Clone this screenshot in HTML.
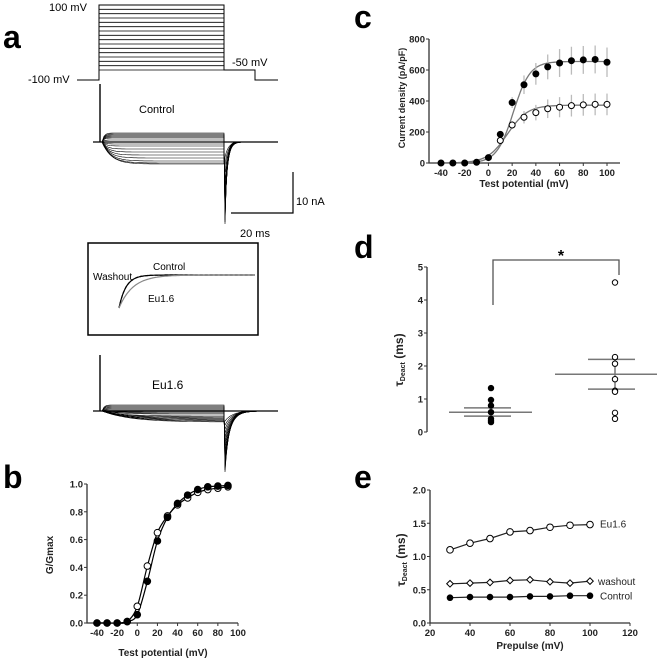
<!DOCTYPE html>
<html><head><meta charset="utf-8"><style>
body{margin:0;background:#fff}
svg text{font-family:"Liberation Sans",Arial,sans-serif}
.b{font-weight:bold}
</style></head><body>
<svg id="s" width="660" height="660" viewBox="0 0 660 660" xmlns="http://www.w3.org/2000/svg">
<g id="pa">
<text x="3" y="48" font-size="32" class="b">a</text>
<text x="49" y="11" font-size="11">100 mV</text>
<text x="28" y="83" font-size="11">-100 mV</text>
<text x="232" y="66" font-size="11">-50 mV</text>
<text x="139" y="113" font-size="11">Control</text>
<text x="296" y="205" font-size="11">10 nA</text>
<text x="240" y="237" font-size="11">20 ms</text>
<path d="M293 172V213H231" fill="none" stroke="#000" stroke-width="1.2"/>
<rect x="88" y="243" width="170" height="92" fill="none" stroke="#000" stroke-width="1.5"/>
<text x="93" y="280" font-size="10">Washout</text>
<text x="153" y="270" font-size="10">Control</text>
<text x="148" y="302" font-size="10">Eu1.6</text>
<text x="152" y="389" font-size="12">Eu1.6</text>
</g>
<g id="pb"><text x="3" y="488" font-size="32" class="b">b</text></g>
<g id="pc"><text x="354" y="28" font-size="32" class="b">c</text></g>
<g id="pd"><text x="354" y="258" font-size="32" class="b">d</text>
<text x="561" y="261" font-size="16" class="b" text-anchor="middle">*</text></g>
<g id="pe"><text x="354" y="488" font-size="32" class="b">e</text></g>
</svg>
<script>
// panel c data
const cV=[-40,-30,-20,-10,0,10,20,30,40,50,60,70,80,90,100];
const cFilled=[0,0,0,5,35,185,390,505,575,620,645,660,665,668,650];
const cFilledErr=[0,0,0,5,10,20,35,60,70,80,90,90,90,90,95];
const cOpenV=[10,20,30,40,50,60,70,80,90,100];
const cOpen=[145,245,295,325,350,360,370,375,378,378];
const cOpenErr=[10,25,40,50,60,65,70,70,70,70];
const cTicksX=[-40,-20,0,20,40,60,80,100];
const cTicksY=[0,200,400,600,800];
// panel b data
const bV=[-40,-30,-20,-10,0,10,20,30,40,50,60,70,80,90];
const bFilled=[0,0,0,0.01,0.06,0.3,0.59,0.76,0.86,0.92,0.96,0.98,0.985,0.99];
const bOpenV=[-40,-30,-20,-10,0,10,20,30,40,50,60,70,80,90];
const bOpen=[0,0,0,0.01,0.12,0.41,0.65,0.77,0.85,0.9,0.94,0.96,0.97,0.98];
const bTicksX=[-40,-20,0,20,40,60,80,100];
const bTicksY=[0,0.2,0.4,0.6,0.8,1.0];
// panel d data
const dControl=[1.33,0.97,0.8,0.6,0.4,0.35,0.3];
const dEu=[4.53,2.27,2.07,1.6,1.25,1.22,0.58,0.4];
const dStats=[[0.6,0.73,0.48],[1.75,2.2,1.3]];
const dTicksY=[0,1,2,3,4,5];
// panel e data
const eX=[30,40,50,60,70,80,90,100];
const eEu=[1.1,1.2,1.27,1.37,1.39,1.44,1.47,1.48];
const eWash=[0.59,0.6,0.61,0.64,0.65,0.62,0.6,0.63];
const eCtrl=[0.38,0.39,0.39,0.39,0.4,0.4,0.41,0.41];
const eTicksX=[20,40,60,80,100,120];
const eTicksY=[0,0.5,1.0,1.5,2.0];
// panel a trace amplitudes (nA-ish, positive = inward/down)
const ctrlSteady=[-9,-8,-7,-6,-5,-4,-2,0,2,4,7,10,13,16,19,21,22];
const ctrlTail=[82,80,78,76,74,72,70,68,65,60,55,50,44,38,30,22,15];
const euSteady=[-6,-5,-4,-3,-2,-1,0,1,2,3,5,6,7,8,9,10,11];
const euTail=[61,59,57,55,53,50,48,45,42,38,34,30,26,22,18,14,10];
const protoSteps=[0,1,2,3,4,5,6,7,8,9,10,11,12,13,14,15];

const NS='http://www.w3.org/2000/svg';
function mk(p,t,a){const e=document.createElementNS(NS,t);for(const k in a)e.setAttribute(k,a[k]);p.appendChild(e);return e;}
const G=id=>document.getElementById(id);
const f1=v=>v.toFixed(1);

function axes(g,x0,x1,y0,y1,sx,sy,tx,ty,fmtY,xl,yl,xTitle,yTitle){
  let ax=mk(g,'path',{d:`M${x0} ${y1}V${y0}H${x1}`,fill:'none',stroke:'#333','stroke-width':1.3});
  
  
  if(tx)tx.forEach(v=>{const x=sx(v);let t=mk(g,'line',{x1:x,x2:x,y1:y0,y2:y0+3,stroke:'#333'});
    
    let l=mk(g,'text',{x:x,y:y0+13,'font-size':xl,'text-anchor':'middle','class':'b',fill:'#222'});l.textContent=v;
    });
  ty.forEach(v=>{const y=sy(v);let t=mk(g,'line',{x1:x0-3,x2:x0,y1:y,y2:y,stroke:'#333'});
    
    let l=mk(g,'text',{x:x0-4,y:y+3.5,'font-size':yl,'text-anchor':'end','class':'b',fill:'#222'});l.textContent=fmtY(v);
    });
  if(xTitle){let t=mk(g,'text',{x:xTitle[0],y:xTitle[1],'font-size':xTitle[2],'text-anchor':'middle','class':'b',fill:'#222'});t.textContent=xTitle[3];
    }
  if(yTitle){let t=mk(g,'text',{x:0,y:0,'font-size':yTitle[2],'text-anchor':'middle','class':'b',fill:'#222',transform:`translate(${yTitle[0]},${yTitle[1]}) rotate(-90)`});t.innerHTML=yTitle[3];
    }
}
function dot(g,x,y,r,open,name){const c=mk(g,'circle',{cx:x,cy:y,r:r,fill:open?'#fff':'#000',stroke:'#000','stroke-width':1});
  return c;}
function curve(g,fn,a,b,sx,sy,col,name){let d='';for(let v=a;v<=b;v+=1)d+=(d?'L':'M')+f1(sx(v))+' '+f1(sy(fn(v)));
  const p=mk(g,'path',{d:d,fill:'none',stroke:col,'stroke-width':1.3});}
function smooth(g,xs,ys,sx,sy,col,name){const P=xs.map((x,i)=>[sx(x),sy(ys[i])]);let d=`M${f1(P[0][0])} ${f1(P[0][1])}`;
  for(let i=0;i<P.length-1;i++){const p0=P[Math.max(0,i-1)],p1=P[i],p2=P[i+1],p3=P[Math.min(P.length-1,i+2)];
    d+=`C${f1(p1[0]+(p2[0]-p0[0])/6)} ${f1(p1[1]+(p2[1]-p0[1])/6)} ${f1(p2[0]-(p3[0]-p1[0])/6)} ${f1(p2[1]-(p3[1]-p1[1])/6)} ${f1(p2[0])} ${f1(p2[1])}`;}
  const p=mk(g,'path',{d:d,fill:'none',stroke:col,'stroke-width':1.2});}

// ---- panel c
{const g=G('pc');const sx=v=>441+(v+40)*166/140, sy=v=>163-v*124/800;
 axes(g,429,620,163,39,sx,sy,cTicksX,cTicksY,v=>v,9.5,9.5,[524,187,10,'Test potential (mV)'],[405,98,9,'Current density (pA/pF)']);
 curve(g,v=>655/(1+Math.exp(-(v-21)/7)),-40,100,sx,sy,'#777','fit-filled');
 curve(g,v=>373/(1+Math.exp(-(v-16)/8.5)),-40,100,sx,sy,'#777','fit-open');
 cV.forEach((v,i)=>{const e=mk(g,'line',{x1:sx(v),x2:sx(v),y1:sy(cFilled[i]-cFilledErr[i]),y2:sy(cFilled[i]+cFilledErr[i]),stroke:'#bbb','stroke-width':1.3});
   });
 cOpenV.forEach((v,i)=>{const e=mk(g,'line',{x1:sx(v),x2:sx(v),y1:sy(cOpen[i]-cOpenErr[i]),y2:sy(cOpen[i]+cOpenErr[i]),stroke:'#bbb','stroke-width':1.3});
   });
 cV.forEach((v,i)=>dot(g,sx(v),sy(cFilled[i]),3,false,'point-control'));
 cOpenV.forEach((v,i)=>dot(g,sx(v),sy(cOpen[i]),3,true,'point-eu'));}
// ---- panel b
{const g=G('pb');const sx=v=>97+(v+40)*141/140, sy=v=>623-v*139;
 axes(g,87,238,623,484,sx,sy,bTicksX,bTicksY,v=>v.toFixed(1),9.5,9.5,[163,656,10,'Test potential (mV)'],[53,555,10,'G/Gmax']);
 smooth(g,bV,bFilled,sx,sy,'#000','fit-filled');
 smooth(g,bOpenV,bOpen,sx,sy,'#000','fit-open');
 bOpenV.forEach((v,i)=>dot(g,sx(v),sy(bOpen[i]),3.3,true,'point-open'));
 bV.forEach((v,i)=>dot(g,sx(v),sy(bFilled[i]),3.3,false,'point-filled'));}
// ---- panel d
{const g=G('pd');const sy=v=>432-v*33;
 axes(g,427,427,432,267,null,sy,null,dTicksY,v=>v,9.5,9.5,null,[403,360,12,'τ<tspan font-size="7" dy="2">Deact</tspan><tspan dy="-2"> (ms)</tspan>']);
 const br=mk(g,'path',{d:'M493 305V260H619V275',fill:'none',stroke:'#555','stroke-width':1.3});
 
 const gx=[[491,449,532,464,511],[615,555,657,588,635]];
 dStats.forEach((s,i)=>{const [cx,a,b,c,d]=gx[i];
   [[a,b,s[0]],[c,d,s[1]],[c,d,s[2]]].forEach(q=>{const l=mk(g,'line',{x1:q[0],x2:q[1],y1:sy(q[2]),y2:sy(q[2]),stroke:'#777','stroke-width':1.5});
     });
   const v=mk(g,'line',{x1:cx,x2:cx,y1:sy(s[1]),y2:sy(s[2]),stroke:'#777','stroke-width':1.5});});
 dControl.forEach(v=>dot(g,491,sy(v),2.7,false,'point-control'));
 dEu.forEach(v=>dot(g,615,sy(v),2.7,true,'point-eu'));}
// ---- panel e
{const g=G('pe');const sx=v=>430+(v-20)*2, sy=v=>623-v*66.5;
 axes(g,430,630,623,490,sx,sy,eTicksX,eTicksY,v=>v.toFixed(1),9.5,9.5,[530,649,10,'Prepulse (mV)'],[405,560,12,'τ<tspan font-size="7" dy="2">Deact</tspan><tspan dy="-2"> (ms)</tspan>']);
 [[eEu,'eu'],[eWash,'washout'],[eCtrl,'control']].forEach(([arr,n])=>{const p=mk(g,'path',{d:arr.map((v,i)=>(i?'L':'M')+sx(eX[i])+' '+f1(sy(v))).join(''),fill:'none',stroke:'#222','stroke-width':1.2});
   });
 eX.forEach((x,i)=>{dot(g,sx(x),sy(eEu[i]),3.3,true,'point-eu');dot(g,sx(x),sy(eCtrl[i]),2.8,false,'point-control');
   const y=sy(eWash[i]),X=sx(x);const p=mk(g,'path',{d:`M${X-3.3} ${y}L${X} ${y-3.3}L${X+3.3} ${y}L${X} ${y+3.3}Z`,fill:'#fff',stroke:'#000'});
   });
 [['Eu1.6',600,sy(1.5)+4],['washout',598,sy(0.63)+4],['Control',600,sy(0.41)+4]].forEach(q=>{const t=mk(g,'text',{x:q[1],y:q[2],'font-size':10,fill:'#222'});t.textContent=q[0];
   });}
// ---- panel a traces
{const g=G('pa');
 const pr=mk(g,'path',{d:'M77 80H99V5H224V70H255V80H278',fill:'none',stroke:'#000','stroke-width':1});
 
 protoSteps.forEach(i=>{const y=5+i*65/15;const l=mk(g,'line',{x1:99,x2:224,y1:y,y2:y,stroke:'#000','stroke-width':0.8});
   });
 function traces(base,spike,steady,tail,tau,ttau,name){
   const bl=mk(g,'line',{x1:93,x2:278,y1:base,y2:base,stroke:'#000','stroke-width':1.2});
   const sp=mk(g,'line',{x1:100,x2:100,y1:spike,y2:base,stroke:'#000','stroke-width':1.4});
   steady.forEach((a,i)=>{const tt=a>0?tau*(1+a/8):2;let d=`M102 ${base}`;for(let x=102;x<=224;x+=2){d+=`L${x} ${f1(base+a*(1-Math.exp(-(x-102)/tt)))}`;}
     const tl=tail[i];const tq=ttau*(1+i/steady.length);
     d+=`L225 ${base+tl}`;for(let x=226;x<=262;x+=1)d+=`L${x} ${f1(base+tl*Math.exp(-(x-225)/tq))}`;
     const p=mk(g,'path',{d:d,fill:'none',stroke:'#000','stroke-width':0.6});});
 }
 traces(142,84,ctrlSteady,ctrlTail,2.5,1.8,'control');
 traces(411,355,euSteady,euTail,12,4,'eu');
 const ins=[['#000','none','control'],['#000','3,2','washout'],['#888','none','eu']];
 ins.forEach((q,k)=>{const tau=k==2?14:7;let d='';for(let x=119;x<=255;x+=1){d+=(d?'L':'M')+x+' '+f1(275+33*Math.exp(-(x-119)/tau));}
   const p=mk(g,'path',{d:d,fill:'none',stroke:q[0],'stroke-width':1.2,'stroke-dasharray':q[1]});});}
</script>
</body></html>
